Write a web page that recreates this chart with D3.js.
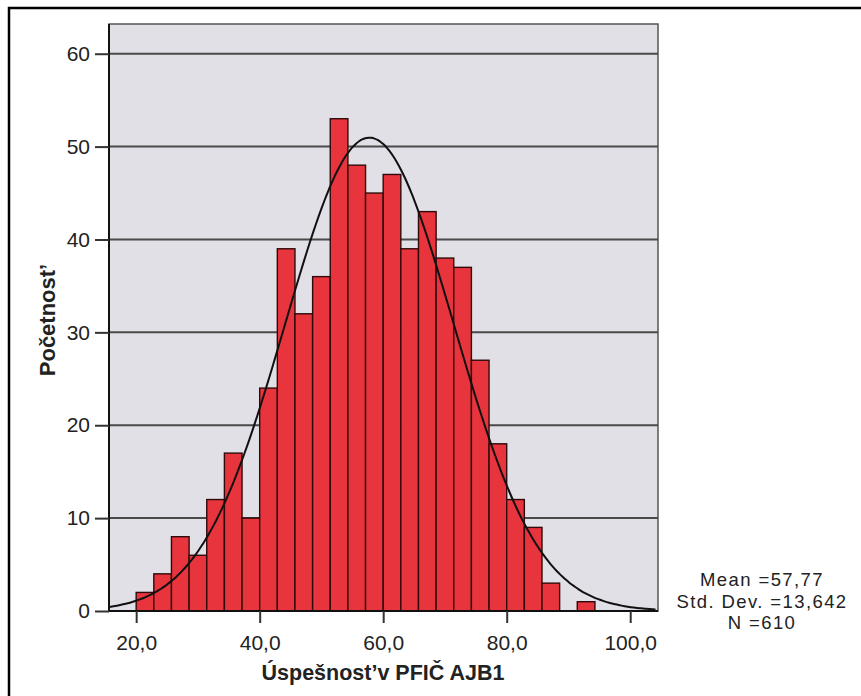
<!DOCTYPE html>
<html>
<head>
<meta charset="utf-8">
<script src="https://cdn.jsdelivr.net/npm/d3@7"></script>
<style>
body { margin:0; background:#fff; }
text { font-family: "Liberation Sans", Arial, sans-serif; fill:#222; }
</style>
</head>
<body>
<div id="chart"></div>
<script>
var width = 861;
var height = 696;

// histogram counts, bins of width 20/7 starting at 20
var counts = [2,4,8,6,12,17,10,24,39,32,36,53,48,45,47,39,43,38,37,27,18,12,9,3,0,1];
var binStart = 20;
var binWidth = 20/7;
var xTicks = [20,40,60,80,100];
var yTicks = [0,10,20,30,40,50,60];
var stats = ["Mean =57,77", "Std. Dev. =13,642", "N =610"];
var mean = 57.77, sd = 13.642, n = 610;

var xScale = d3.scaleLinear().domain([15.6, 104.5]).range([109, 658]);
var yScale = d3.scaleLinear().domain([0, 63.2]).range([611, 24]);

var svg = d3.select("#chart")
    .append("svg")
    .attr("width", width)
    .attr("height", height);

// outer frame
svg.append("rect")
    .attr("x", 9).attr("y", 8)
    .attr("width", 900).attr("height", 800)
    .attr("fill", "none")
    .attr("stroke", "#000")
    .attr("stroke-width", 2.5);

// plot background
svg.append("rect")
    .attr("x", 109).attr("y", 24)
    .attr("width", 658-109).attr("height", 611-24)
    .attr("fill", "#e0e0e6")
    .attr("stroke", "#555")
    .attr("stroke-width", 1.5);

// gridlines
svg.selectAll(".grid")
    .data(yTicks.filter(function(d) { return d > 0; }))
    .enter()
    .append("line")
    .attr("class", "grid")
    .attr("x1", 109).attr("x2", 658)
    .attr("y1", function(d) { return yScale(d); })
    .attr("y2", function(d) { return yScale(d); })
    .attr("stroke", "#4a4a4a")
    .attr("stroke-width", 2);

// bars
svg.selectAll(".bar")
    .data(counts)
    .enter()
    .append("rect")
    .attr("class", "bar")
    .attr("x", function(d, i) { return xScale(binStart + i*binWidth); })
    .attr("width", function(d, i) { return xScale(binStart + (i+1)*binWidth) - xScale(binStart + i*binWidth); })
    .attr("y", function(d) { return yScale(d); })
    .attr("height", function(d) { return yScale(0) - yScale(d); })
    .attr("fill", function(d) { return d > 0 ? "#e8343c" : "none"; })
    .attr("stroke", function(d) { return d > 0 ? "#300a0a" : "none"; })
    .attr("stroke-width", 1.4);

// normal curve from the stated mean / sd / N
var curveX = d3.range(15.6, 104.6, 0.5);
var line = d3.line()
    .x(function(d) { return xScale(d); })
    .y(function(d) {
        var z = (d - mean) / sd;
        return yScale(n * binWidth * Math.exp(-0.5*z*z) / (sd * Math.sqrt(2*Math.PI)));
    })
    .curve(d3.curveBasis);
svg.append("path")
    .datum(curveX)
    .attr("d", line)
    .attr("fill", "none")
    .attr("stroke", "#111")
    .attr("stroke-width", 2);

// axes
var xAxis = d3.axisBottom(xScale)
    .tickValues(xTicks)
    .tickSize(12)
    .tickPadding(12)
    .tickFormat(function(d) { return d3.format(".1f")(d).replace(".", ","); });
var yAxis = d3.axisLeft(yScale)
    .tickValues(yTicks)
    .tickSize(14)
    .tickPadding(5)
    .tickFormat(d3.format("d"));

var gx = svg.append("g")
    .attr("transform", "translate(0,611)")
    .call(xAxis);
var gy = svg.append("g")
    .attr("transform", "translate(109,0)")
    .call(yAxis);

[gx, gy].forEach(function(g) {
    g.select(".domain").attr("stroke", "#111").attr("stroke-width", 2);
    g.selectAll(".tick line").attr("stroke", "#333").attr("stroke-width", 2);
    g.selectAll(".tick text")
        .style("font-size", "21px")
        .style("font-family", "'Liberation Sans', Arial, sans-serif")
        .attr("fill", "#333");
});
gx.select(".domain").attr("d", "M109,0H658");
gy.select(".domain").attr("d", "M0,24V611");

// axis titles
svg.append("text")
    .attr("x", 383)
    .attr("y", 680)
    .style("text-anchor", "middle")
    .style("font-size", "21.5px")
    .style("font-weight", "bold")
    .text("Úspešnost’v PFIČ AJB1");

svg.append("text")
    .attr("transform", "translate(55,320) rotate(-90)")
    .style("text-anchor", "middle")
    .style("font-size", "22px")
    .style("font-weight", "bold")
    .text("Početnost’");

// stats legend
svg.selectAll(".stat")
    .data(stats)
    .enter()
    .append("text")
    .attr("class", "stat")
    .attr("x", 762)
    .attr("y", function(d, i) { return 586 + i*21.5; })
    .style("text-anchor", "middle")
    .style("font-size", "18.5px")
    .style("letter-spacing", "1.4px")
    .attr("fill", "#333")
    .text(function(d) { return d; });
</script>
</body>
</html>
